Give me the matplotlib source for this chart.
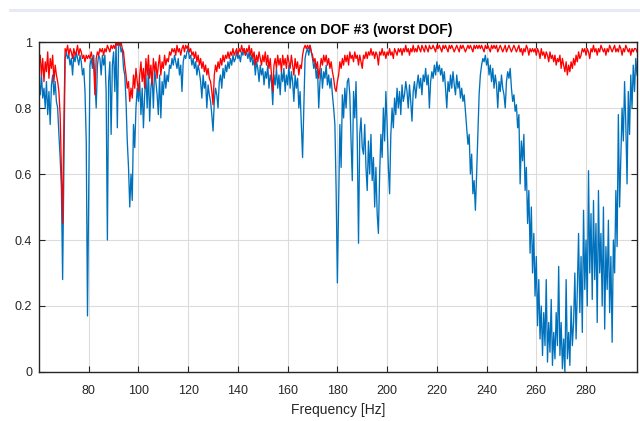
import numpy as np
import matplotlib
matplotlib.use("Agg")
import matplotlib.pyplot as plt
from matplotlib.lines import Line2D

# Frequency grid of the coherence estimate
freq_start = 60.0
freq_step = 0.5

# Coherence of DOF #3 (percent), one row per 10 Hz
coh_dof3_060 = [
    88, 84, 90, 83, 86, 80, 88, 78, 85, 75, 87, 90, 84, 88, 82, 80, 72, 65, 56, 28,
    62, 95, 97, 95, 96, 93, 95, 90, 96, 94, 97, 95, 93, 96, 94, 90, 92, 85, 70, 17,
    55, 93, 95, 92, 96, 88, 80, 93, 96, 95, 90, 96, 93, 96, 85, 40, 88, 94, 72, 93,
    97, 85, 100, 74, 99, 100, 97, 98, 92, 90, 82, 70, 62, 50, 60, 52, 75, 68, 80, 86,
    82, 88, 78, 86, 74, 84, 90, 80, 92, 76, 86, 90, 80, 92, 88, 84, 78, 90, 77, 88,
    84, 91, 86, 90, 88, 93, 92, 95, 93, 96, 94, 92, 95, 90, 93, 85, 94, 96, 95, 97,
]
coh_dof3_120 = [
    98, 95, 96, 93, 95, 92, 94, 90, 93, 91, 88, 83, 90, 86, 88, 80, 87, 84, 82, 78,
    73, 82, 86, 84, 80, 88, 90, 86, 92, 89, 93, 91, 94, 92, 95, 93, 96, 94, 95, 97,
    95, 96, 94, 97, 96, 98, 96, 97, 95, 97, 94, 96, 93, 95, 90, 94, 92, 88, 93, 90,
    92, 87, 91, 89, 93, 86, 90, 88, 81, 90, 87, 92, 86, 90, 84, 91, 88, 92, 85, 90,
    87, 93, 86, 91, 88, 82, 90, 86, 89, 80, 85, 75, 65, 80, 95, 97, 98, 96, 99, 97,
    95, 92, 94, 89, 92, 80, 88, 92, 86, 91, 89, 93, 87, 90, 86, 89, 84, 80, 75, 55,
]
coh_dof3_180 = [
    27, 50, 75, 62, 84, 77, 86, 80, 88, 89, 84, 70, 58, 85, 77, 88, 70, 39, 72, 77,
    68, 66, 75, 62, 55, 70, 60, 72, 58, 65, 50, 62, 48, 42, 60, 72, 65, 80, 70, 85,
    75, 62, 54, 72, 80, 74, 83, 78, 86, 80, 85, 78, 87, 82, 84, 88, 85, 80, 87, 82,
    76, 85, 88, 83, 87, 90, 86, 89, 84, 90, 88, 92, 87, 90, 80, 88, 91, 89, 93, 90,
    94, 91, 93, 90, 92, 88, 91, 86, 80, 88, 85, 90, 86, 91, 87, 84, 90, 86, 88, 83,
    86, 82, 84, 79, 74, 69, 72, 60, 66, 54, 58, 49, 60, 72, 84, 90, 93, 95, 94, 96,
]
coh_dof3_240 = [
    93, 95, 90, 93, 88, 92, 86, 90, 87, 80, 88, 85, 90, 86, 84, 80, 88, 91, 89, 92,
    86, 82, 84, 79, 81, 74, 78, 57, 70, 64, 72, 55, 62, 45, 55, 36, 50, 30, 42, 23,
    35, 14, 28, 10, 20, 5, 18, 8, 28, 3, 15, 6, 22, 2, 12, 4, 18, 8, 32, 5,
    15, 1, 10, 0, 28, 4, 12, 2, 20, 8, 15, 30, 10, 25, 42, 18, 35, 12, 49, 25,
    40, 20, 61, 30, 48, 22, 52, 28, 45, 15, 55, 30, 42, 20, 50, 13, 38, 25, 46, 18,
    35, 9, 40, 30, 55, 38, 78, 50, 65, 80, 70, 88, 75, 57, 85, 72, 90, 80, 93, 85,
    95, 90,
]

# Reference coherence (percent), same grid
coh_ref_060 = [
    93, 96, 90, 95, 88, 94, 91, 97, 89, 95, 92, 96, 88, 93, 90, 88, 85, 78, 62, 45,
    75, 98, 97, 99, 96, 98, 97, 95, 98, 96, 97, 99, 96, 98, 97, 95, 96, 94, 96, 95,
    96, 95, 97, 95, 93, 84, 95, 97, 96, 98, 97, 98, 96, 98, 97, 99, 98, 97, 99, 98,
    99, 98, 100, 99, 100, 99, 100, 98, 97, 93, 90, 86, 88, 82, 86, 83, 90, 86, 92, 88,
    85, 90, 94, 88, 92, 86, 95, 90, 96, 89, 93, 87, 95, 91, 94, 89, 93, 96, 90, 94,
    92, 96, 93, 95, 94, 97, 96, 98, 97, 98, 96, 99, 97, 98, 96, 98, 99, 97, 99, 98,
]
coh_ref_120 = [
    99, 97, 98, 96, 97, 95, 97, 94, 96, 93, 95, 92, 94, 91, 93, 90, 92, 89, 88, 85,
    81, 90, 93, 91, 94, 92, 95, 93, 96, 94, 96, 95, 97, 95, 97, 96, 98, 96, 97, 98,
    96, 98, 97, 99, 97, 98, 96, 98, 97, 99, 96, 98, 95, 97, 93, 96, 94, 97, 95, 93,
    96, 94, 97, 93, 96, 92, 95, 90, 85, 93, 95, 92, 96, 93, 95, 91, 96, 93, 95, 92,
    96, 94, 92, 96, 93, 90, 95, 92, 94, 90, 93, 92, 96, 98, 99, 98, 99, 98, 99, 97,
    96, 94, 95, 92, 94, 89, 92, 95, 93, 96, 94, 96, 93, 95, 92, 94, 91, 89, 86, 85,
]
coh_ref_180 = [
    88, 90, 94, 92, 95, 93, 96, 94, 96, 93, 97, 95, 96, 94, 97, 95, 96, 93, 96, 94,
    92, 96, 95, 97, 95, 97, 96, 98, 96, 97, 95, 97, 96, 93, 97, 96, 98, 96, 97, 95,
    97, 96, 98, 96, 97, 95, 98, 97, 96, 98, 97, 98, 96, 98, 97, 99, 97, 98, 96, 98,
    97, 99, 97, 98, 97, 99, 98, 97, 99, 98, 97, 99, 98, 97, 99, 98, 98, 99, 98, 97,
    99, 98, 99, 98, 97, 99, 98, 99, 98, 97, 99, 98, 99, 98, 97, 98, 99, 98, 97, 99,
    98, 99, 98, 97, 98, 99, 98, 99, 98, 97, 99, 98, 99, 98, 99, 98, 99, 98, 97, 99,
]
coh_ref_240 = [
    98, 99, 98, 97, 99, 98, 99, 98, 99, 97, 98, 99, 98, 97, 98, 99, 97, 98, 99, 98,
    97, 98, 99, 98, 97, 98, 99, 97, 98, 96, 98, 97, 99, 98, 96, 98, 97, 98, 97, 98,
    96, 98, 97, 95, 98, 96, 97, 95, 97, 96, 94, 97, 95, 96, 94, 96, 93, 95, 94, 96,
    92, 95, 93, 91, 94, 90, 93, 91, 94, 92, 95, 93, 96, 94, 97, 95, 96, 98, 97, 98,
    96, 98, 97, 95, 98, 97, 99, 97, 98, 96, 98, 97, 99, 98, 97, 98, 96, 98, 97, 99,
    98, 97, 98, 99, 97, 98, 97, 99, 98, 96, 98, 97, 99, 98, 97, 98, 96, 98, 97, 98,
    98, 97,
]

x_ticks = [80, 100, 120, 140, 160, 180, 200, 220, 240, 260, 280]
y_ticks = [0, 0.2, 0.4, 0.6, 0.8, 1]
y_tick_labels = ["0", "0.2", "0.4", "0.6", "0.8", "1"]

coh_dof3 = np.array(coh_dof3_060 + coh_dof3_120 + coh_dof3_180 + coh_dof3_240) / 100.0
coh_ref = np.array(coh_ref_060 + coh_ref_120 + coh_ref_180 + coh_ref_240) / 100.0
freq = freq_start + freq_step * np.arange(len(coh_dof3))

font = ["Liberation Sans Narrow", "Liberation Sans", "DejaVu Sans"]
ink = "#262626"

fig = plt.figure(figsize=(6.4, 4.21), dpi=100)
fig.patch.set_facecolor("white")

# thin light rule along the top of the canvas
fig.add_artist(Line2D([10 / 640, 1.0], [1 - 9.5 / 421, 1 - 9.5 / 421],
                      transform=fig.transFigure, color="#e6eaf2", lw=2.2))

ax = fig.add_axes([39 / 640, 49 / 421, 598 / 640, 330 / 421])
ax.plot(freq, coh_dof3, color="#0072BD", lw=0.95)
ax.plot(freq, coh_ref, color="#FF0000", lw=0.95)

ax.set_xlim(60, 300.5)
ax.set_ylim(0, 1)
ax.set_xticks(x_ticks)
ax.set_xticklabels([str(t) for t in x_ticks], family=font, fontsize=9, color=ink)
ax.set_yticks(y_ticks)
ax.set_yticklabels(y_tick_labels, family=font, fontsize=9, color=ink)
ax.grid(True, color="#dcdcdc", lw=0.8)
ax.set_axisbelow(True)
ax.tick_params(direction="in", top=True, right=True, length=4, width=0.8,
               colors=ink)
ax.tick_params(axis="x", pad=9.5)
ax.tick_params(axis="y", pad=5)
for side in ax.spines.values():
    side.set_color(ink)
    side.set_linewidth(1.0)

ax.set_title("Coherence on DOF #3 (worst DOF)", family=font, fontweight="bold",
             fontsize=10, color="black", pad=6)
ax.set_xlabel("Frequency [Hz]", family=font, fontsize=10, color=ink, labelpad=4)

fig.savefig("out.png", dpi=100)
